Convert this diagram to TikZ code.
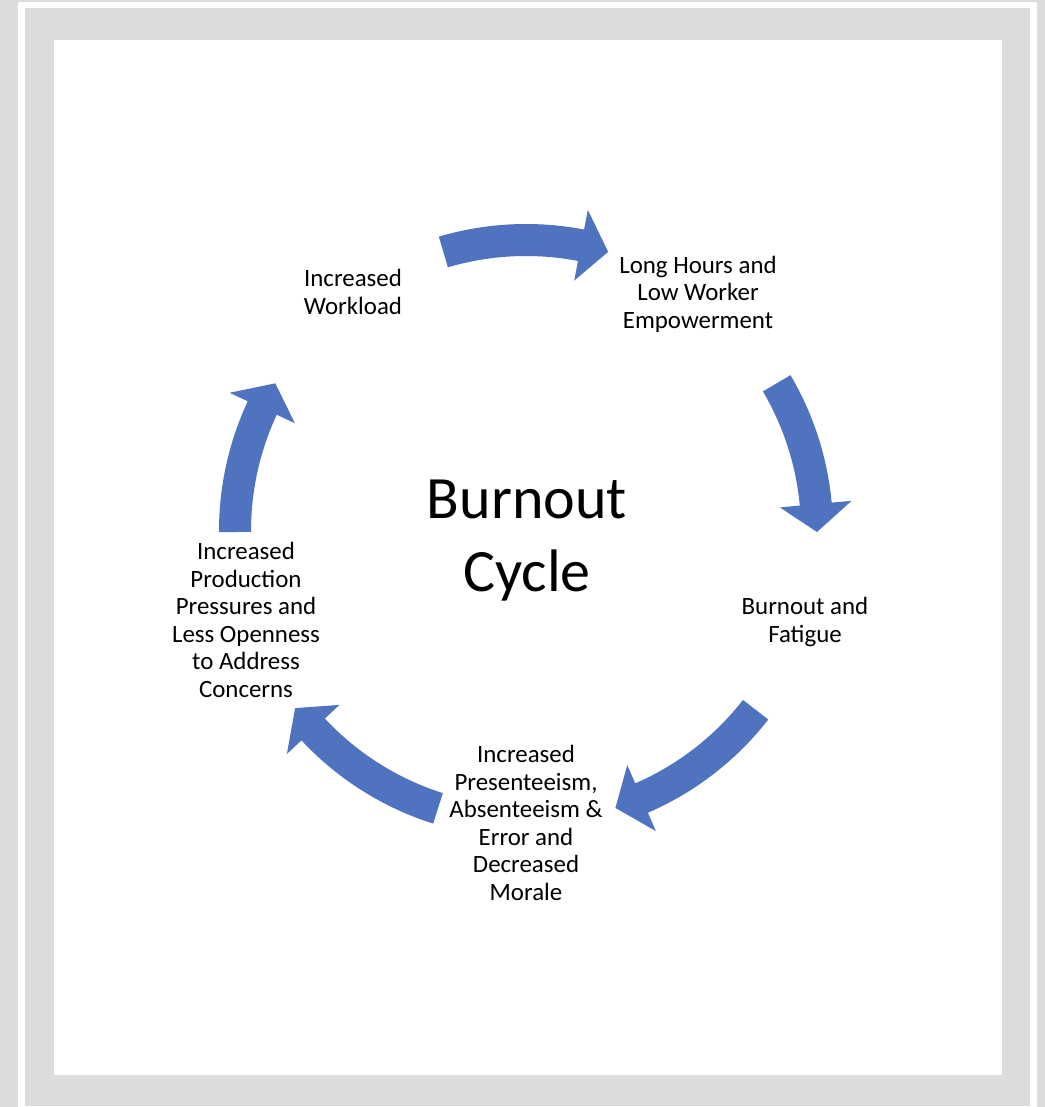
\documentclass[tikz,border=0pt]{standalone}
\usepackage{fontspec}
\setmainfont{Carlito}
\usepackage{tikz}
\usetikzlibrary{calc, positioning}
\definecolor{framegray}{HTML}{DCDCDC}
\definecolor{arrowblue}{HTML}{5073BF}
\tikzset{lbl/.style={align=center,inner sep=0pt,font=\fontsize{17.7}{19.6}\selectfont}}
\tikzset{ttl/.style={align=center,inner sep=0pt,font=\fontsize{42.7}{52}\selectfont}}
\tikzset{cyc/.style={fill=arrowblue,draw=none}}

\begin{document}
\begin{tikzpicture}[x=0.025cm,y=0.025cm]
\useasboundingbox (0,0) rectangle (1045,1107);
\clip (0,0) rectangle (1045,1107);
% frame
\fill[framegray] (0,0) rectangle (1045,1107);
\fill[white] (18,-5) rectangle (1037,1105);
\fill[framegray] (25,1) rectangle (1030,1099);
\fill[white] (54,32) rectangle (1002,1067);

% arrows round the cycle
\begin{scope}[shift={(526,576)}]
\foreach \a/\b [evaluate=\b as \h using \b+5.5] in {106.5/73.6, 30.5/-0.2, -37.9/-72.1, -107.6/-142.5, 180.2/149.5}
	\fill[cyc] (\a:307) arc[start angle=\a, end angle=\h, radius=307]
		-- (\h:327) -- (\b:291) -- (\h:255) -- (\h:275)
		arc[start angle=\h, end angle=\a, radius=275] -- cycle;
\end{scope}

\node [ttl] at (527,566) (cycle) {Burnout\\Cycle};
\node [lbl] at (353,815) (work) {Increased\\Workload};
\node [lbl] at (698,813) (hours) {Long Hours and\\Low Worker\\Empowerment};
\node [lbl] at (805,485) (fatigue) {Burnout and\\Fatigue};
\node [lbl] at (526,284) (morale) {Increased\\Presenteeism,\\Absenteeism \&\\Error and\\Decreased\\Morale};
\node [lbl] at (246,487) (press) {Increased\\Production\\Pressures and\\Less Openness\\to Address\\Concerns};
\end{tikzpicture}
\end{document}
